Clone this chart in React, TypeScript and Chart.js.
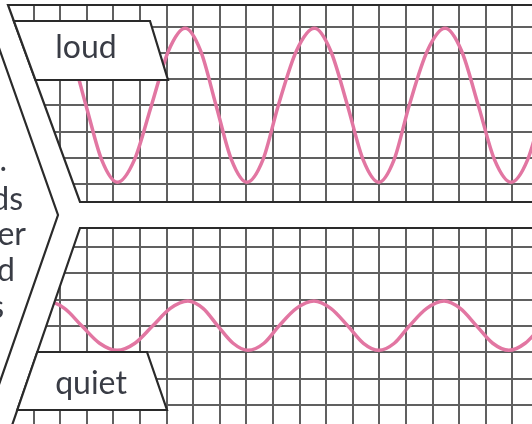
import React, { useEffect, useRef } from 'react';
import { Chart, registerables } from 'chart.js';

Chart.register(...registerables);

// ---- data (x in grid cells, y in grid cells from each panel's centre line) ----
const topWaveX = [0.0, 0.58, 1.2, 1.8, 2.38, 2.97, 3.56, 4.15, 4.79, 5.43, 6.07, 6.7, 7.28, 7.86, 8.44, 9.02, 9.62, 10.2, 10.88, 11.56, 12.17, 12.8, 13.39, 13.98, 14.55, 15.12, 15.8, 16.47, 17.09, 17.72, 18.33, 18.95, 19.57, 20.17];
const topWaveY = [-1.6, 0, 2.07, 2.92, 2.07, 0, -2.07, -2.92, -2.07, 0, 2.07, 2.93, 2.07, 0, -2.07, -2.92, -2.07, 0, 2.07, 2.93, 2.07, 0, -2.07, -2.92, -2.07, 0, 2.07, 2.93, 2.07, 0, -2.07, -2.92, -2.07, 0];

const bottomWaveX = [0.3, 0.9, 1.5, 2.16, 2.82, 3.48, 4.14, 4.81, 5.47, 6.14, 6.8, 7.37, 7.93, 8.5, 9.06, 9.66, 10.22, 10.88, 11.54, 12.17, 12.82, 13.4, 13.98, 14.56, 15.12, 15.78, 16.43, 17.04, 17.66, 18.26, 18.87, 19.48, 20.1];
const bottomWaveY = [0, 0.67, 0.95, 0.67, 0, -0.65, -0.92, -0.65, 0, 0.67, 0.95, 0.67, 0, -0.65, -0.92, -0.65, 0, 0.67, 0.95, 0.67, 0, -0.65, -0.92, -0.65, 0, 0.67, 0.95, 0.67, 0, -0.65, -0.92, -0.65, 0];

const xGridLines = [0, 1, 2, 3, 4, 5, 6, 7, 8, 9, 10, 11, 12, 13, 14, 15, 16, 17, 18, 19];
const topGridLines = [-3, -2, -1, 0, 1, 2, 3];
const bottomGridLines = [-3, -2, -1, 0, 1, 2, 3];

const panelLabels = ['loud', 'quiet'];
const sideTextLines = ['.', 'ds', 'ger', 'd', 's'];

// ---- styles ----
const WAVE_COLOR = 'rgb(226,118,162)';
const GRID_COLOR = '#606060';
const FRAME_COLOR = '#2a2a2a';
const TEXT_COLOR = '#393c45';
const FONT = '32px Lato, "Open Sans", sans-serif';

// decoration geometry (pixels)
const TOP_FRAME = 5;
const TOP_PANEL_BOTTOM = 202;
const BOTTOM_PANEL_TOP = 228;
const topEdgeX = (y: number) => 8 + (72 / 197) * (y - TOP_FRAME);
const bottomEdgeX = (y: number) => 80 - (67.5 / 196) * (y - BOTTOM_PANEL_TOP);
const outerX = (y: number) => (y <= 215 ? 58 - 0.353 * (215 - y) : 58 - 0.348 * (y - 215));

const decorPlugin = {
  id: 'decor',
  afterDraw(chart: any) {
    const ctx: CanvasRenderingContext2D = chart.ctx;
    const W = chart.width;
    const H = chart.height;
    ctx.save();

    // white mask outside the two grid panels
    ctx.fillStyle = '#ffffff';
    ctx.beginPath();
    ctx.moveTo(-30, -30);
    ctx.lineTo(W + 30, -30);
    ctx.lineTo(W + 30, TOP_FRAME);
    ctx.lineTo(topEdgeX(TOP_FRAME), TOP_FRAME);
    ctx.lineTo(topEdgeX(TOP_PANEL_BOTTOM), TOP_PANEL_BOTTOM);
    ctx.lineTo(W + 30, TOP_PANEL_BOTTOM);
    ctx.lineTo(W + 30, BOTTOM_PANEL_TOP);
    ctx.lineTo(bottomEdgeX(BOTTOM_PANEL_TOP), BOTTOM_PANEL_TOP);
    ctx.lineTo(bottomEdgeX(H + 30), H + 30);
    ctx.lineTo(-30, H + 30);
    ctx.closePath();
    ctx.fill();

    // panel frames
    ctx.strokeStyle = FRAME_COLOR;
    ctx.lineWidth = 2.2;
    ctx.lineJoin = 'miter';
    ctx.beginPath();
    ctx.moveTo(W + 5, TOP_FRAME);
    ctx.lineTo(topEdgeX(TOP_FRAME), TOP_FRAME);
    ctx.lineTo(topEdgeX(TOP_PANEL_BOTTOM), TOP_PANEL_BOTTOM);
    ctx.lineTo(W + 5, TOP_PANEL_BOTTOM);
    ctx.stroke();
    ctx.beginPath();
    ctx.moveTo(W + 5, BOTTOM_PANEL_TOP);
    ctx.lineTo(bottomEdgeX(BOTTOM_PANEL_TOP), BOTTOM_PANEL_TOP);
    ctx.lineTo(bottomEdgeX(H + 10), H + 10);
    ctx.stroke();

    // outer chevron
    ctx.beginPath();
    ctx.moveTo(outerX(-10), -10);
    ctx.lineTo(58, 215);
    ctx.lineTo(outerX(H + 10), H + 10);
    ctx.stroke();

    // label boxes
    const boxes = [
      { pts: [[topEdgeX(21), 21], [150, 21], [168, 80], [topEdgeX(80), 80]], tx: 86, ty: 58 },
      { pts: [[bottomEdgeX(352), 352], [147, 352], [167, 410], [bottomEdgeX(410), 410]], tx: 91, ty: 394 },
    ];
    boxes.forEach((b, i) => {
      ctx.beginPath();
      ctx.moveTo(b.pts[0][0], b.pts[0][1]);
      for (let k = 1; k < b.pts.length; k++) ctx.lineTo(b.pts[k][0], b.pts[k][1]);
      ctx.closePath();
      ctx.fillStyle = '#ffffff';
      ctx.fill();
      ctx.strokeStyle = FRAME_COLOR;
      ctx.lineWidth = 2.2;
      ctx.stroke();
      ctx.fillStyle = TEXT_COLOR;
      ctx.font = FONT;
      ctx.textAlign = 'center';
      ctx.textBaseline = 'alphabetic';
      ctx.fillText(panelLabels[i], b.tx, b.ty);
    });

    // cut-off side text
    const sideRight = [7, 23, 26, 15, 4];
    const sideBase = [171, 210, 245, 281, 318];
    ctx.fillStyle = TEXT_COLOR;
    ctx.font = FONT;
    ctx.textAlign = 'right';
    sideTextLines.forEach((t, i) => {
      ctx.fillText(t, sideRight[i], sideBase[i]);
    });

    ctx.restore();
  },
};

function gridAxis(extra: any, ticks: number[]) {
  return {
    type: 'linear',
    display: true,
    afterBuildTicks: (scale: any) => {
      scale.ticks = ticks.map((v) => ({ value: v }));
    },
    ticks: { display: false },
    grid: { display: true, color: GRID_COLOR, lineWidth: 2, drawTicks: false },
    border: { display: false },
    ...extra,
  };
}

export default function App() {
  const canvasRef = useRef<HTMLCanvasElement | null>(null);

  useEffect(() => {
    if (!canvasRef.current) return;
    const chart = new Chart(canvasRef.current, {
      type: 'line',
      data: {
        datasets: [
          {
            label: panelLabels[0],
            data: topWaveX.map((x, i) => ({ x, y: topWaveY[i] })),
            xAxisID: 'x',
            yAxisID: 'yTop',
            borderColor: WAVE_COLOR,
            borderWidth: 3.5,
            pointRadius: 0,
            cubicInterpolationMode: 'monotone',
            fill: false,
          },
          {
            label: panelLabels[1],
            data: bottomWaveX.map((x, i) => ({ x, y: bottomWaveY[i] })),
            xAxisID: 'x',
            yAxisID: 'yBot',
            borderColor: WAVE_COLOR,
            borderWidth: 3.5,
            pointRadius: 0,
            cubicInterpolationMode: 'monotone',
            fill: false,
          },
        ],
      },
      options: {
        animation: false,
        responsive: true,
        maintainAspectRatio: false,
        events: [],
        layout: { padding: 0 },
        plugins: { legend: { display: false }, tooltip: { enabled: false }, title: { display: false } },
        scales: {
          x: gridAxis({ position: 'bottom', min: -0.263, max: 19.737 }, xGridLines),
          yTop: gridAxis({ position: 'left', min: -12.114, max: 4.008 }, topGridLines),
          yBot: gridAxis({ position: 'left', min: -3.711, max: 12.362 }, bottomGridLines),
        },
      } as any,
      plugins: [decorPlugin],
    });
    return () => chart.destroy();
  }, []);

  return (
    <div style={{ position: 'fixed', left: 0, top: 0, width: 532, height: 424, background: '#ffffff' }}>
      <canvas ref={canvasRef} />
    </div>
  );
}
